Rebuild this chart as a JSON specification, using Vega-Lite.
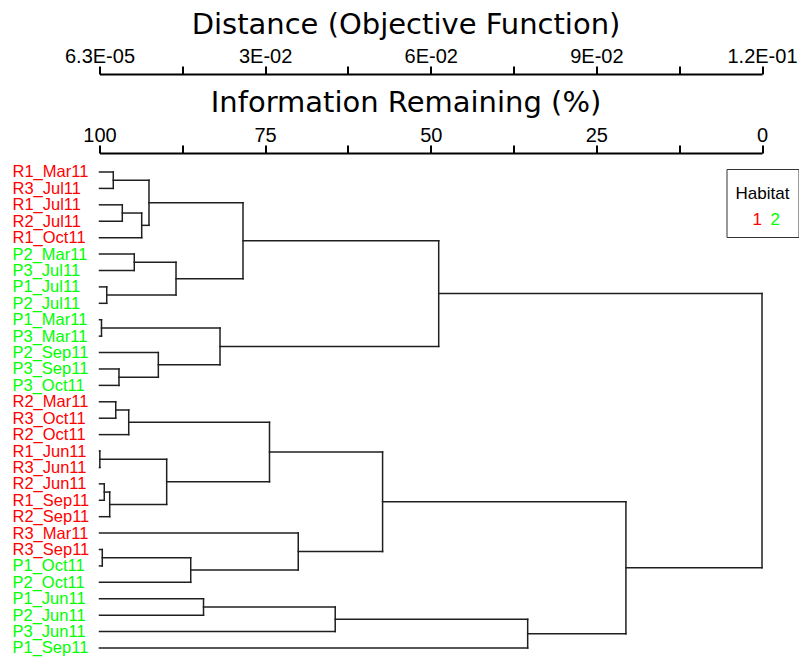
{
  "$schema": "https://vega.github.io/schema/vega-lite/v6.json",
  "width": 662.5,
  "height": 505,
  "autosize": {"type": "none"},
  "padding": {"left": 99.5, "top": 153, "right": 37, "bottom": 0},
  "background": "white",
  "config": {"view": {"stroke": null}},
  "datasets": {
    "leaves": [
      {"leaf": "R1_Mar11", "habitat": "1"},
      {"leaf": "R3_Jul11", "habitat": "1"},
      {"leaf": "R1_Jul11", "habitat": "1"},
      {"leaf": "R2_Jul11", "habitat": "1"},
      {"leaf": "R1_Oct11", "habitat": "1"},
      {"leaf": "P2_Mar11", "habitat": "2"},
      {"leaf": "P3_Jul11", "habitat": "2"},
      {"leaf": "P1_Jul11", "habitat": "2"},
      {"leaf": "P2_Jul11", "habitat": "2"},
      {"leaf": "P1_Mar11", "habitat": "2"},
      {"leaf": "P3_Mar11", "habitat": "2"},
      {"leaf": "P2_Sep11", "habitat": "2"},
      {"leaf": "P3_Sep11", "habitat": "2"},
      {"leaf": "P3_Oct11", "habitat": "2"},
      {"leaf": "R2_Mar11", "habitat": "1"},
      {"leaf": "R3_Oct11", "habitat": "1"},
      {"leaf": "R2_Oct11", "habitat": "1"},
      {"leaf": "R1_Jun11", "habitat": "1"},
      {"leaf": "R3_Jun11", "habitat": "1"},
      {"leaf": "R2_Jun11", "habitat": "1"},
      {"leaf": "R1_Sep11", "habitat": "1"},
      {"leaf": "R2_Sep11", "habitat": "1"},
      {"leaf": "R3_Mar11", "habitat": "1"},
      {"leaf": "R3_Sep11", "habitat": "1"},
      {"leaf": "P1_Oct11", "habitat": "2"},
      {"leaf": "P2_Oct11", "habitat": "2"},
      {"leaf": "P1_Jun11", "habitat": "2"},
      {"leaf": "P2_Jun11", "habitat": "2"},
      {"leaf": "P3_Jun11", "habitat": "2"},
      {"leaf": "P1_Sep11", "habitat": "2"}
    ],
    "merges": [
      {"node": "A", "level": 97.92, "p1": 0, "l1": 100, "p2": 1, "l2": 100},
      {"node": "B", "level": 96.56, "p1": 2, "l1": 100, "p2": 3, "l2": 100},
      {"node": "C", "level": 93.63, "p1": 2.5, "l1": 96.56, "p2": 4, "l2": 100},
      {"node": "D", "level": 92.53, "p1": 0.5, "l1": 97.92, "p2": 3.25, "l2": 93.63},
      {"node": "E", "level": 94.75, "p1": 5, "l1": 100, "p2": 6, "l2": 100},
      {"node": "F", "level": 98.91, "p1": 7, "l1": 100, "p2": 8, "l2": 100},
      {"node": "G", "level": 88.45, "p1": 5.5, "l1": 94.75, "p2": 7.5, "l2": 98.91},
      {"node": "H", "level": 78.34, "p1": 1.875, "l1": 92.53, "p2": 6.5, "l2": 88.45},
      {"node": "I", "level": 99.7, "p1": 9, "l1": 100, "p2": 10, "l2": 100},
      {"node": "J", "level": 97.06, "p1": 12, "l1": 100, "p2": 13, "l2": 100},
      {"node": "K", "level": 91.12, "p1": 11, "l1": 100, "p2": 12.5, "l2": 97.06},
      {"node": "L", "level": 81.81, "p1": 9.5, "l1": 99.7, "p2": 11.75, "l2": 91.12},
      {"node": "M", "level": 48.8, "p1": 4.1875, "l1": 78.34, "p2": 10.625, "l2": 81.81},
      {"node": "N", "level": 97.55, "p1": 14, "l1": 100, "p2": 15, "l2": 100},
      {"node": "O", "level": 95.59, "p1": 14.5, "l1": 97.55, "p2": 16, "l2": 100},
      {"node": "P", "level": 99.95, "p1": 17, "l1": 100, "p2": 18, "l2": 100},
      {"node": "Q", "level": 99.28, "p1": 19, "l1": 100, "p2": 20, "l2": 100},
      {"node": "R", "level": 98.46, "p1": 19.5, "l1": 99.28, "p2": 21, "l2": 100},
      {"node": "S", "level": 89.86, "p1": 17.5, "l1": 99.95, "p2": 20.25, "l2": 98.46},
      {"node": "T", "level": 74.34, "p1": 15.25, "l1": 95.59, "p2": 18.875, "l2": 89.86},
      {"node": "U", "level": 99.58, "p1": 23, "l1": 100, "p2": 24, "l2": 100},
      {"node": "V", "level": 86.23, "p1": 23.5, "l1": 99.58, "p2": 25, "l2": 100},
      {"node": "W", "level": 70.0, "p1": 22, "l1": 100, "p2": 24.25, "l2": 86.23},
      {"node": "X", "level": 57.27, "p1": 17.0625, "l1": 74.34, "p2": 23.125, "l2": 70.0},
      {"node": "Y", "level": 84.3, "p1": 26, "l1": 100, "p2": 27, "l2": 100},
      {"node": "Z", "level": 64.42, "p1": 26.5, "l1": 84.3, "p2": 28, "l2": 100},
      {"node": "AA", "level": 35.37, "p1": 27.25, "l1": 64.42, "p2": 29, "l2": 100},
      {"node": "AB", "level": 20.54, "p1": 20.09375, "l1": 57.27, "p2": 28.125, "l2": 35.37},
      {"node": "Root", "level": 0, "p1": 7.40625, "l1": 48.8, "p2": 24.109375, "l2": 20.54}
    ]
  },
  "layer": [
    {
      "data": {"name": "leaves"},
      "mark": {"type": "point", "opacity": 0},
      "encoding": {
        "y": {
          "field": "leaf", "type": "nominal", "sort": null,
          "scale": {"type": "point", "padding": 0.8836, "align": 0.655, "round": false},
          "axis": {
            "orient": "left", "title": null, "ticks": false, "domain": false, "grid": false,
            "labelAlign": "left", "labelPadding": 87.5, "labelBaseline": "middle",
            "labelFont": "Liberation Sans", "labelFontSize": 16.5,
            "labelOverlap": false, "labelBound": false, "labelLimit": 0,
            "labelColor": {"expr": "substring(datum.value, 0, 1) == 'R' ? '#ff0000' : '#00ff00'"}
          }
        },
        "color": {
          "field": "habitat", "type": "nominal",
          "scale": {"domain": ["1", "2"], "range": ["#ff0000", "#00ff00"]},
          "legend": {
            "title": "Habitat", "orient": "none", "legendX": 627, "legendY": 16,
            "direction": "horizontal", "columns": 2,
            "titleFont": "Liberation Sans", "titleFontSize": 17, "titleFontWeight": "normal", "titleColor": "black",
            "titleAnchor": "middle", "titleBaseline": "line-top", "titleLineHeight": 33, "titlePadding": 16,
            "labelFont": "Liberation Sans", "labelFontSize": 17,
            "labelColor": {"expr": "datum.label == '1' ? '#ff0000' : '#00ff00'"},
            "symbolSize": 0, "symbolOpacity": 0, "symbolStrokeWidth": 0,
            "labelOffset": -9, "columnPadding": -6.5,
            "padding": 9, "strokeColor": "#333333"
          }
        }
      }
    },
    {
      "data": {"name": "merges"},
      "mark": {"type": "rule", "color": "#1f1f1f", "strokeWidth": 1.5, "strokeCap": "square"},
      "encoding": {
        "x": {
          "field": "level", "type": "quantitative",
          "scale": {"domain": [100, 0], "nice": false, "zero": false},
          "axis": {
            "orient": "top", "values": [100, 87.5, 75, 62.5, 50, 37.5, 25, 12.5, 0],
            "labelExpr": "datum.value % 25 == 0 ? format(datum.value, 'd') : ''",
            "grid": false, "tickSize": 8, "tickWidth": 2, "tickColor": "black",
            "domainWidth": 2, "domainColor": "black",
            "labelFont": "Liberation Sans", "labelFontSize": 20, "labelColor": "black",
            "labelBaseline": "alphabetic", "labelPadding": 4, "labelFlush": false, "labelOverlap": false, "labelBound": false,
            "title": "Information Remaining (%)", "titleFont": "DejaVu Sans", "titleFontSize": 29,
            "titleFontWeight": "normal", "titleColor": "black", "titleX": 306, "titleY": -42,
            "titleAlign": "center", "titleBaseline": "alphabetic", "titleAnchor": null
          }
        },
        "y": {"field": "p1", "type": "quantitative", "scale": {"domain": [-1.1576, 29.6093], "reverse": true, "nice": false, "zero": false}, "axis": null},
        "y2": {"field": "p2"}
      }
    },
    {
      "data": {"name": "merges"},
      "mark": {"type": "rule", "color": "#1f1f1f", "strokeWidth": 1.5, "strokeCap": "square"},
      "encoding": {
        "x": {
          "field": "l1", "type": "quantitative",
          "scale": {"domain": [100, 0], "nice": false, "zero": false},
          "axis": {
            "orient": "top", "offset": 79, "values": [100, 87.5, 75, 62.5, 50, 37.5, 25, 12.5, 0],
            "labelExpr": "datum.value == 100 ? '6.3E-05' : datum.value == 75 ? '3E-02' : datum.value == 50 ? '6E-02' : datum.value == 25 ? '9E-02' : datum.value == 0 ? '1.2E-01' : ''",
            "grid": false, "tickSize": 8, "tickWidth": 2, "tickColor": "black",
            "domainWidth": 2, "domainColor": "black",
            "labelFont": "Liberation Sans", "labelFontSize": 20, "labelColor": "black",
            "labelBaseline": "alphabetic", "labelPadding": 4, "labelFlush": false, "labelOverlap": false, "labelBound": false,
            "title": "Distance (Objective Function)", "titleFont": "DejaVu Sans", "titleFontSize": 29,
            "titleFontWeight": "normal", "titleColor": "black", "titleX": 306, "titleY": -41,
            "titleAlign": "center", "titleBaseline": "alphabetic", "titleAnchor": null
          }
        },
        "x2": {"field": "level"},
        "y": {"field": "p1", "type": "quantitative", "scale": {"domain": [-1.1576, 29.6093], "reverse": true, "nice": false, "zero": false}, "axis": null}
      }
    },
    {
      "data": {"name": "merges"},
      "mark": {"type": "rule", "color": "#1f1f1f", "strokeWidth": 1.5, "strokeCap": "square"},
      "encoding": {
        "x": {
          "field": "l2", "type": "quantitative",
          "scale": {"domain": [100, 0], "nice": false, "zero": false},
          "axis": null
        },
        "x2": {"field": "level"},
        "y": {"field": "p2", "type": "quantitative", "scale": {"domain": [-1.1576, 29.6093], "reverse": true, "nice": false, "zero": false}, "axis": null}
      }
    }
  ],
  "resolve": {
    "scale": {"x": "independent", "y": "independent"},
    "axis": {"x": "independent", "y": "independent"}
  }
}
